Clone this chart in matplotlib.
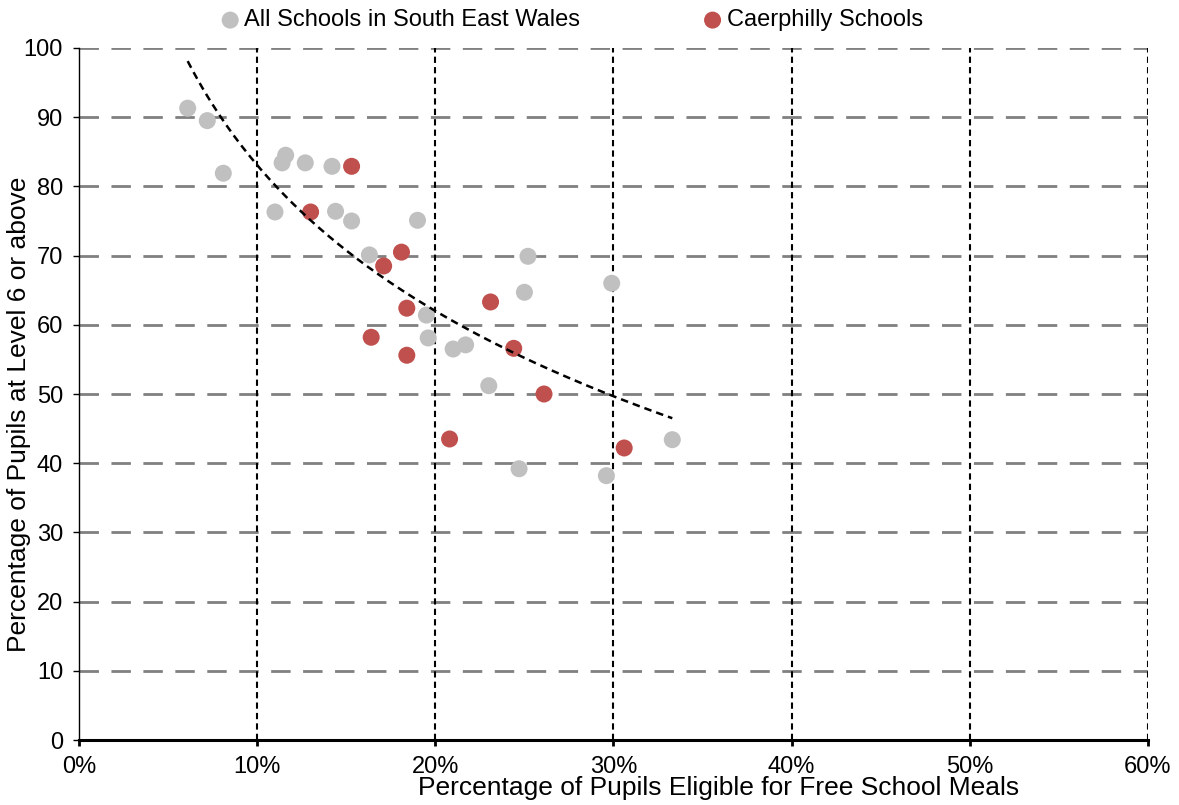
import numpy as np
import matplotlib
matplotlib.use('Agg')
import matplotlib.pyplot as plt
from matplotlib.ticker import FuncFormatter

plt.rcParams['font.family'] = ['Liberation Sans', 'DejaVu Sans']

# all schools in south east wales (FSM %, level 6+ %)
sew_fsm = [6.1, 7.2, 8.1, 11.6, 11.4, 12.7, 14.2, 11.0, 14.4, 15.3, 19.0, 16.3,
           25.2, 25.0, 29.9, 19.5, 19.6, 21.0, 21.7, 23.0, 24.7, 29.6, 33.3]
sew_l6 = [91.3, 89.5, 81.9, 84.5, 83.4, 83.4, 82.9, 76.3, 76.4, 75.0, 75.1, 70.1,
          69.9, 64.7, 66.0, 61.4, 58.1, 56.5, 57.1, 51.2, 39.2, 38.2, 43.4]

# caerphilly schools
cae_fsm = [15.3, 13.0, 18.1, 17.1, 18.4, 16.4, 18.4, 23.1, 24.4, 26.1, 20.8, 30.6]
cae_l6 = [82.9, 76.3, 70.5, 68.5, 62.4, 58.2, 55.6, 63.3, 56.6, 50.0, 43.5, 42.2]

# log trend line  y = a + b*ln(x/x0)
trend_a = 98.1
trend_b = -30.4
trend_x0 = 6.1
trend_x1 = 33.3

fig = plt.figure(figsize=(11.79, 8.05), dpi=100)
ax = fig.add_axes([0.067, 0.0807, 0.9067, 0.8597])

# grid
for yv in range(10, 101, 10):
    ax.plot([0, 60], [yv, yv], color='#808080', lw=2, dashes=(7, 4.5), zorder=1)
for xv in range(10, 61, 10):
    ax.plot([xv, xv], [0, 100], color='black', lw=1.5, dashes=(3, 2), zorder=1)

ax.scatter(sew_fsm, sew_l6, s=150, color='#c0c0c0', edgecolors='none', zorder=3,
           label='All Schools in South East Wales')
ax.scatter(cae_fsm, cae_l6, s=150, color='#c0504d', edgecolors='none', zorder=3,
           label='Caerphilly Schools')

xt = np.linspace(trend_x0, trend_x1, 200)
ax.plot(xt, trend_a + trend_b*np.log(xt/trend_x0), color='black', lw=1.8,
        dashes=(3, 2), zorder=4)

ax.set_xlim(0, 60)
ax.set_ylim(0, 100)
ax.set_xticks(range(0, 61, 10))
ax.set_yticks(range(0, 101, 10))
ax.xaxis.set_major_formatter(FuncFormatter(lambda v, p: '%d%%' % v))
ax.tick_params(axis='both', labelsize=17, direction='out', length=4.5, color='black')
ax.tick_params(axis='x', width=2, pad=7)
ax.tick_params(axis='y', width=1, pad=7)

for s in ['top', 'right']:
    ax.spines[s].set_visible(False)
ax.spines['left'].set_linewidth(1)
ax.spines['bottom'].set_linewidth(2.2)
ax.spines['bottom'].set_zorder(5)

ax.set_xlabel('Percentage of Pupils Eligible for Free School Meals', fontsize=19)
ax.xaxis.set_label_coords(0.598, -0.052)
ax.set_ylabel('Percentage of Pupils at Level 6 or above', fontsize=19)
ax.yaxis.set_label_coords(-0.045, 0.47)

ax.legend(loc='center', bbox_to_anchor=(0.461, 1.04), ncol=2, frameon=False,
          fontsize=17, handlelength=0.8, handletextpad=0.2, columnspacing=5.2)

fig.savefig('out.png', dpi=100)
